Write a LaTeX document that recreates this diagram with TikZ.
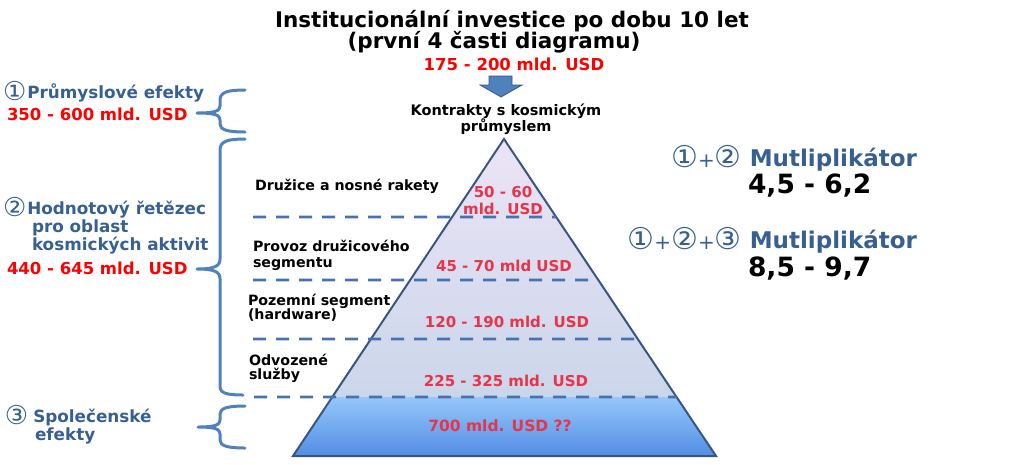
\documentclass[tikz,border=0pt]{standalone}
\usepackage{fontspec}
\setmainfont{DejaVu Sans}
\usetikzlibrary{calc}
\definecolor{txtblue}{RGB}{55,96,146}
\definecolor{lineblue}{RGB}{79,129,189}
\definecolor{dashblue}{RGB}{70,115,175}
\definecolor{edgeblue}{RGB}{56,86,130}
\definecolor{redA}{RGB}{255,0,0}
\definecolor{redB}{RGB}{232,52,72}
\definecolor{lavTop}{RGB}{236,228,246}
\definecolor{lavBot}{RGB}{203,214,234}
\definecolor{skyTop}{RGB}{150,198,250}
\definecolor{skyBot}{RGB}{82,142,228}
\newcommand\fsz[1]{\fontsize{#1}{#1}\selectfont}
\newcommand\circd[2]{{\mdseries\fsz{#1}#2}}
\newcommand\circl[1]{\raisebox{-2pt}{\circd{26}{#1}}}
\tikzset{
  x=1pt,y=-1pt,
  every node/.style={inner sep=0pt,outer sep=0pt},
  titletxt/.style={font=\fsz{21.5}\bfseries,text=black},
  bluelbl/.style={font=\fsz{16.8}\bfseries,text=txtblue,anchor=base west},
  redlbl/.style={font=\fsz{16.5}\bfseries,text=redA,anchor=base west},
  seglbl/.style={font=\fsz{14.2}\bfseries,text=black,anchor=base west},
  pyrlbl/.style={font=\fsz{15}\bfseries,text=redB,anchor=base},
  multlbl/.style={font=\fsz{23}\bfseries,text=txtblue,anchor=base east},
  numlbl/.style={font=\fsz{26.5}\bfseries,text=black,anchor=base west},
  bracestyle/.style={draw=lineblue,line width=3pt,line join=round,line cap=round},
  segline/.style={draw=dashblue,line width=2.8pt,dash pattern=on 13pt off 10pt},
}
\begin{document}
\begin{tikzpicture}
\useasboundingbox (0,0) rectangle (1024,464);
% title
\node[titletxt,anchor=base] (t1) at (512,27.5) {Institucionální investice po dobu 10 let};
\node[titletxt,anchor=base] (t2) at (494,48) {(první 4 časti diagramu)};
\node[font=\fsz{16.5}\bfseries,text=redA,anchor=base] (t3) at (514,70) {175 - 200 mld. USD};
% arrow
\draw[fill=lineblue,draw=edgeblue,line width=0.8pt,line join=miter] (489,76) -- (512,76) -- (512,85) -- (522,85) -- (501,97) -- (480,85) -- (489,85) -- cycle;
\node[font=\fsz{14.5}\bfseries,anchor=base] (k1) at (506,115) {Kontrakty s kosmickým};
\node[font=\fsz{14.5}\bfseries,anchor=base] (k2) at (506,131.7) {průmyslem};
% pyramid
\coordinate (apex) at (504,139);
\coordinate (bl) at (293,456);
\coordinate (br) at (716,456);
\coordinate (ml) at ($(apex)!0.8139!(bl)$);
\coordinate (mr) at ($(apex)!0.8139!(br)$);
\shade[top color=lavTop,bottom color=lavBot] (apex) -- (ml) -- (mr) -- cycle;
\shade[top color=skyTop,bottom color=skyBot] (ml) -- (mr) -- (br) -- (bl) -- cycle;
\draw[edgeblue,line width=2pt,line join=miter] (apex) -- (br) -- (bl) -- cycle;
% dashed separators
\draw[segline] (253,217) -- ($(apex)!0.246!(br)$);
\draw[segline] (253,280) -- ($(apex)!0.4448!(br)$);
\draw[segline] (253,339) -- ($(apex)!0.6309!(br)$);
\draw[segline] (254,397) -- ($(apex)!0.8139!(br)$);
% braces
\draw[bracestyle] (245,90) .. controls (228,90) and (220,92) .. (220,100) -- (220,106)
  .. controls (220,111) and (215,113) .. (197,113)
  .. controls (215,113) and (220,115) .. (220,120) -- (220,124)
  .. controls (220,130) and (228,132) .. (245,132);
\draw[bracestyle] (245,139) .. controls (228,139) and (220,141) .. (220,150) -- (220,259)
  .. controls (220,266) and (215,269) .. (197,269)
  .. controls (215,269) and (220,272) .. (220,279) -- (220,386)
  .. controls (220,393) and (226,395) .. (243,395);
\draw[bracestyle] (245,406) .. controls (228,406) and (220,408) .. (220,414) -- (220,420)
  .. controls (220,425) and (215,427) .. (198,427)
  .. controls (215,427) and (220,429) .. (220,434) -- (220,440)
  .. controls (220,446) and (228,448) .. (245,448);
% left labels
\node[bluelbl] (p1) at (3,98) {\circl{①}\hspace{1pt}Průmyslové efekty};
\node[redlbl] (p1v) at (7,120) {350 - 600 mld. USD};
\node[bluelbl] (h1) at (3,214) {\circl{②}\hspace{1pt}Hodnotový řetězec};
\node[bluelbl] (h2) at (32,232.3) {pro oblast};
\node[bluelbl] (h3) at (32,250.7) {kosmických aktivit};
\node[redlbl] (hv) at (7,274) {440 - 645 mld. USD};
\node[bluelbl] (s1) at (5,422) {\circl{③}\hspace{5pt}Společenské};
\node[bluelbl] (s2) at (35,440) {efekty};
% segment labels
\node[seglbl] (d1) at (255,190) {Družice a nosné rakety};
\node[seglbl] (o1) at (253,251) {Provoz družicového};
\node[seglbl] (o2) at (253,267.7) {segmentu};
\node[seglbl] (z1) at (248,305) {Pozemní segment};
\node[seglbl] (z2) at (248,319.3) {(hardware)};
\node[seglbl] (v1) at (249,365) {Odvozené};
\node[seglbl] (v2) at (249,379.3) {služby};
% pyramid values
\node[pyrlbl] (a1) at (503,197.3) {50 - 60};
\node[pyrlbl] (a2) at (503,214) {mld. USD};
\node[pyrlbl] (b1) at (504,271) {45 - 70 mld USD};
\node[pyrlbl] (c1) at (507,327.7) {120 - 190 mld. USD};
\node[pyrlbl] (e1) at (506,386) {225 - 325 mld. USD};
\node[pyrlbl,font=\fsz{15.5}\bfseries] (f1) at (500,431.7) {700 mld. USD ??};
% multipliers
\node[multlbl] (m1) at (917,166.7) {\raisebox{-1pt}{\circd{30}{①}\circd{20}{+}\circd{30}{②}}\hspace{8pt}Mutliplikátor};
\node[numlbl] (n1) at (748,193.3) {4,5 - 6,2};
\node[multlbl] (m2) at (917,248.3) {\raisebox{-1pt}{\circd{30}{①}\circd{20}{+}\circd{30}{②}\circd{20}{+}\circd{30}{③}}\hspace{8pt}Mutliplikátor};
\node[numlbl] (n2) at (748,276.7) {8,5 - 9,7};
\end{tikzpicture}
\end{document}
